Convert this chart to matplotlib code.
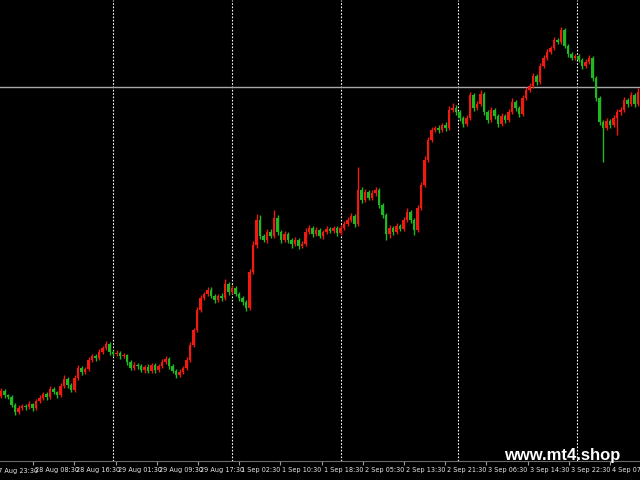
import matplotlib
matplotlib.use("Agg")
import matplotlib.pyplot as plt
import matplotlib.transforms as mtransforms
import numpy as np

# M30 bars (price units are arbitrary, axis is hidden)
first_open = 84
closes = [89, 85, 83, 75, 68, 72, 74, 73, 76, 72,
          79, 82, 86, 83, 91, 88, 85, 94, 101, 95,
          90, 102, 112, 108, 111, 120, 124, 122, 128, 132,
          136, 128, 126, 127, 124, 125, 118, 112, 115, 114,
          110, 113, 109, 115, 110, 114, 118, 121, 114, 109,
          105, 108, 112, 120, 135, 150, 170, 182, 186, 190,
          184, 180, 184, 182, 196, 188, 192, 186, 182, 178,
          172, 208, 235, 260, 244, 240, 248, 244, 262, 248,
          240, 246, 240, 236, 240, 234, 236, 248, 252, 246,
          250, 244, 248, 251, 249, 252, 247, 252, 256, 260,
          264, 256, 290, 280, 288, 282, 287, 290, 275, 265,
          246, 252, 248, 254, 251, 260, 268, 260, 250, 272,
          295, 320, 340, 350, 352, 350, 355, 352, 370, 372,
          368, 362, 356, 362, 385, 372, 376, 386, 368, 360,
          370, 364, 356, 364, 360, 368, 378, 372, 366, 382,
          390, 394, 404, 398, 414, 422, 428, 432, 440, 438,
          450, 434, 426, 422, 424, 420, 414, 418, 422, 402,
          382, 358, 352, 359, 355, 362, 368, 370, 380, 376,
          385, 376, 388]
# wick lengths above / below the body
wick_up = [3, 2, 1, 2, 2, 3, 2, 2, 3, 1,
           2, 3, 2, 2, 3, 2, 1, 3, 4, 2,
           2, 3, 3, 2, 2, 3, 2, 2, 3, 2,
           3, 2, 2, 3, 2, 2, 1, 2, 3, 2,
           2, 2, 3, 2, 2, 2, 3, 3, 2, 2,
           2, 3, 2, 3, 3, 2, 3, 3, 2, 3,
           3, 2, 2, 3, 5, 2, 3, 2, 2, 2,
           2, 3, 4, 6, 5, 2, 3, 3, 8, 3,
           2, 3, 2, 2, 3, 2, 3, 4, 3, 2,
           3, 2, 2, 3, 2, 2, 2, 3, 3, 3,
           3, 2, 23, 3, 3, 2, 3, 3, 2, 2,
           2, 3, 2, 3, 2, 3, 4, 2, 2, 3,
           3, 4, 3, 3, 2, 3, 2, 3, 4, 5,
           3, 2, 2, 3, 3, 2, 3, 4, 2, 2,
           3, 2, 2, 3, 2, 3, 4, 2, 2, 3,
           3, 3, 3, 2, 3, 3, 3, 2, 3, 2,
           3, 2, 2, 2, 2, 2, 2, 3, 3, 2,
           2, 2, 2, 3, 2, 3, 3, 3, 3, 2,
           3, 2, 4]
wick_dn = [2, 3, 2, 2, 3, 2, 2, 3, 2, 3,
           2, 2, 2, 3, 2, 2, 3, 2, 2, 3,
           2, 2, 2, 3, 2, 2, 2, 3, 2, 2,
           2, 3, 2, 2, 3, 2, 3, 2, 2, 3,
           2, 3, 2, 2, 3, 2, 2, 2, 3, 2,
           3, 2, 2, 2, 2, 2, 2, 2, 2, 2,
           2, 3, 2, 3, 2, 3, 2, 2, 3, 3,
           3, 2, 2, 3, 3, 2, 3, 2, 2, 3,
           3, 2, 3, 4, 2, 3, 2, 2, 2, 3,
           2, 2, 3, 2, 2, 2, 3, 2, 2, 2,
           2, 3, 2, 3, 2, 2, 2, 3, 3, 3,
           6, 4, 3, 2, 2, 2, 2, 3, 5, 2,
           2, 2, 2, 2, 2, 3, 2, 3, 2, 2,
           3, 3, 3, 2, 2, 3, 2, 2, 3, 3,
           2, 3, 3, 2, 3, 2, 2, 3, 3, 2,
           2, 2, 2, 3, 2, 2, 2, 2, 2, 2,
           2, 2, 3, 2, 2, 2, 3, 2, 2, 3,
           3, 3, 34, 2, 3, 2, 17, 3, 2, 3,
           2, 3, 2]

level_line = 393
day_separators = [32, 66, 97, 130.5, 164.5]   # bar positions of day breaks
time_labels = ["27 Aug 23:30", "28 Aug 08:30", "28 Aug 16:30", "29 Aug 01:30",
               "29 Aug 09:30", "29 Aug 17:30", "1 Sep 02:30", "1 Sep 10:30",
               "1 Sep 18:30", "2 Sep 05:30", "2 Sep 13:30", "2 Sep 21:30",
               "3 Sep 06:30", "3 Sep 14:30", "3 Sep 22:30", "4 Sep 07:30"]

closes = np.array(closes, dtype=float)
opens = np.concatenate([[first_open], closes[:-1]])
top = np.maximum(opens, closes)
bot = np.minimum(opens, closes)
highs = top + np.array(wick_up)
lows = bot - np.array(wick_dn)
x = np.arange(len(closes))

up_col = "#f01a10"
dn_col = "#20b820"
cols = np.where(closes >= opens, up_col, dn_col)

fig = plt.figure(figsize=(6.4, 4.8), dpi=100, facecolor="black")
ax = fig.add_axes([0, 0.04, 1, 0.96])
ax.set_facecolor("black")

px = 3.5  # pixels per bar
ax.set_xlim(-1 / px, 639 / px)
ax.set_ylim(19.2, 480)

for d in day_separators:
    ax.axvline(d, color="white", lw=0.8, ls=(0, (1.5, 1.5)), zorder=1)
ax.axhline(level_line, color="#a8a8a8", lw=1, zorder=1)

ax.vlines(x, lows, highs, colors=cols, lw=1.0, zorder=2)
ax.bar(x, np.maximum(top - bot, 1), bottom=bot, width=0.78, color=cols,
       linewidth=0, zorder=3)

# time scale: one label every 41.2 px, text to the right of its tick
tick_pos = [(-8 + 41.2 * k - 1) / px for k in range(len(time_labels))]
lab_font = dict(family="Liberation Sans Narrow", fontsize=4.7, color="#e6e6e6")
ax.set_xticks(tick_pos[1:])
ax.set_xticklabels(time_labels[1:], ha="left", **lab_font)
ax.tick_params(axis="x", length=3, width=0.8, color="#9a9a9a", pad=1.8)
shift = mtransforms.ScaledTranslation(2 / 100, 0, fig.dpi_scale_trans)
for lab in ax.get_xticklabels():
    lab.set_transform(lab.get_transform() + shift)
trans = mtransforms.blended_transform_factory(ax.transData, ax.transAxes)
ax.text(tick_pos[0], -0.0146, time_labels[0], ha="left", va="top",
        transform=trans + shift, clip_on=False, **lab_font)

ax.set_yticks([])
for s in ["top", "left", "right"]:
    ax.spines[s].set_visible(False)
ax.spines["bottom"].set_color("#6a6a6a")
ax.spines["bottom"].set_linewidth(0.8)

fig.text(0.969, 0.052, "www.mt4.shop", ha="right", va="center", color="white",
         fontsize=12, fontweight="bold", family="Liberation Sans")

fig.savefig("out.png", dpi=100, facecolor="black")
